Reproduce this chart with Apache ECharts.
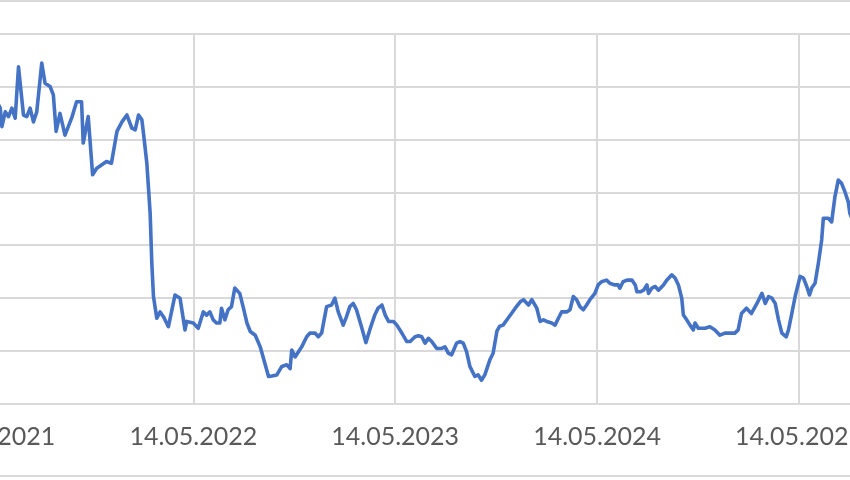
<!DOCTYPE html>
<html><head><meta charset="utf-8">
<script src="https://cdn.jsdelivr.net/npm/echarts@6/dist/echarts.min.js"></script>
<style>
html,body{margin:0;padding:0;width:850px;height:480px;overflow:hidden;background:#fff;position:relative}
#chart{position:absolute;left:-100px;top:0;width:1200px;height:480px}
</style>
</head><body><div id="chart"></div>
<script>
// x values: days since 14.05.2021
const days = [12,16,19,25,31,37,43,49,58,64,70,76,82,91,97,106,112,117,124,133,145,154,163,166,175,183,190,208,217,227,236,245,254,260,266,272,
275,281,287,290,293,299,305,311,320,332,341,350,353,365,374,383,389,395,401,407,413,416,422,428,434,440,449,455,462,468,477,486,501,507,516,525,534,540,
543,549,552,561,570,576,585,591,597,606,615,621,627,636,642,648,654,660,669,677,684,693,699,706,712,718,727,733,742,751,757,766,772,778,784,790,796,805,814,820,826,832,841,847,853,859,865,874,880,886,892,901,907,914,919,
925,934,947,956,962,971,977,980,986,992,998,1004,1013,1019,1025,1031,1040,1046,1052,1058,1064,1070,1076,1082,1091,1097,1103,1112,1118,1127,1133,1136,1142,1149,1158,1164,1167,1173,1179,1185,1188,1194,1200,1206,1215,1221,1230,1236,1242,1248,1251,1257,1263,1269,1272,1278,
1284,1290,1299,1308,1317,1326,1335,1344,1350,1356,1365,1374,1384,1393,1399,1405,1411,1417,1423,1429,1437,1441,1447,1453,1462,1468,1474,1479,1483,1489,1495,1501,1504,1513,1519,1525,1531,1537,1543,1549,1552,1558];
const prices = [56.7,55.9,52.4,55.2,54.3,55.9,54.0,63.7,54.6,54.3,55.9,53.3,55.2,64.4,60.6,60.0,58.4,51.5,54.9,50.8,54.0,57.1,57.1,49.3,54.3,43.3,44.5,45.8,45.5,51.5,53.3,54.6,52.1,51.8,54.6,53.7,
51.1,45.5,36.0,26.6,20.3,16.2,17.4,16.5,14.6,20.6,20.0,14.0,15.6,15.3,14.3,17.4,16.8,17.4,15.9,15.3,15.3,18.1,15.9,17.8,18.4,21.9,20.9,18.4,15.3,13.7,13.0,10.8,5.2,5.3,5.5,7.1,7.4,6.7,
10.2,8.9,8.6,10.8,12.7,13.4,13.4,12.7,13.4,18.4,18.7,20.0,17.4,14.9,16.5,18.4,19.0,17.8,14.6,11.6,14.0,16.8,18.1,18.7,16.8,15.6,15.6,14.9,13.4,11.8,11.8,12.7,12.9,12.7,11.5,12.4,11.8,10.5,10.5,10.8,9.6,9.3,11.5,11.8,11.5,9.9,7.1,5.2,5.5,4.5,5.5,8.3,9.6,13.8,14.7,
14.9,16.2,18.1,19.3,19.7,18.7,19.7,20.0,18.1,15.6,15.9,15.6,15.3,14.9,16.2,17.4,17.4,17.8,20.3,19.7,18.4,17.8,18.7,19.7,20.9,22.5,23.1,23.4,22.8,22.5,22.5,21.9,23.1,23.4,23.4,22.5,21.2,21.2,21.5,22.5,20.9,21.9,22.2,21.5,22.5,23.4,24.4,23.8,22.5,20.0,16.8,15.9,14.9,14.0,15.3,14.3,
14.3,14.3,14.6,14.0,13.0,13.4,13.4,13.4,14.0,17.1,18.1,17.1,19.0,20.9,19.0,20.3,20.0,19.0,15.9,13.4,12.7,14.0,17.1,20.3,24.1,23.8,22.2,20.6,21.9,22.8,26.6,31.0,35.1,35.1,34.4,39.2,42.3,41.7,40.1,38.2,36.0,34.4];
const tickLabels = ['14.05.2021','14.05.2022','14.05.2023','14.05.2024','14.05.2025','14.05.2026'];
const xStep = 365, xMax = 1825;
const yMin = 0, yMax = 70, yStep = 10;

const chart = echarts.init(document.getElementById('chart'), null, {renderer:'canvas'});
const gridCol = '#d9d9d9';
chart.setOption({
  animation:false,
  backgroundColor:'#ffffff',
  grid:{left:91.4, top:33.5, right:99.1, bottom:76, containLabel:false},
  xAxis:{
    type:'value', min:0, max:xMax, interval:xStep,
    axisLine:{show:true, lineStyle:{color:gridCol, width:2}},
    axisTick:{show:false},
    splitLine:{show:true, lineStyle:{color:gridCol, width:2}},
    axisLabel:{
      show:true, margin:20, color:'#595959', fontFamily:'Lato', fontSize:25,
      formatter:function(v){ return (v % xStep === 0) ? (tickLabels[Math.round(v/xStep)] || '') : ''; }
    }
  },
  yAxis:{
    type:'value', min:yMin, max:yMax, interval:yStep,
    axisLine:{show:false}, axisTick:{show:false}, axisLabel:{show:false},
    splitLine:{show:true, lineStyle:{color:gridCol, width:2}}
  },
  graphic:[
    {type:'line', shape:{x1:100,y1:1,x2:950,y2:1}, style:{stroke:'#d9d9d9', lineWidth:2}},
    {type:'line', shape:{x1:100,y1:476,x2:950,y2:476}, style:{stroke:'#d9d9d9', lineWidth:2}}
  ],
  series:[{
    type:'line',
    data: days.map((d,i)=>[d, prices[i]]),
    showSymbol:false, symbol:'none',
    lineStyle:{color:'#4472C4', width:3.6, join:'round', cap:'round'},
    clip:true
  }]
});
</script>
</body></html>
